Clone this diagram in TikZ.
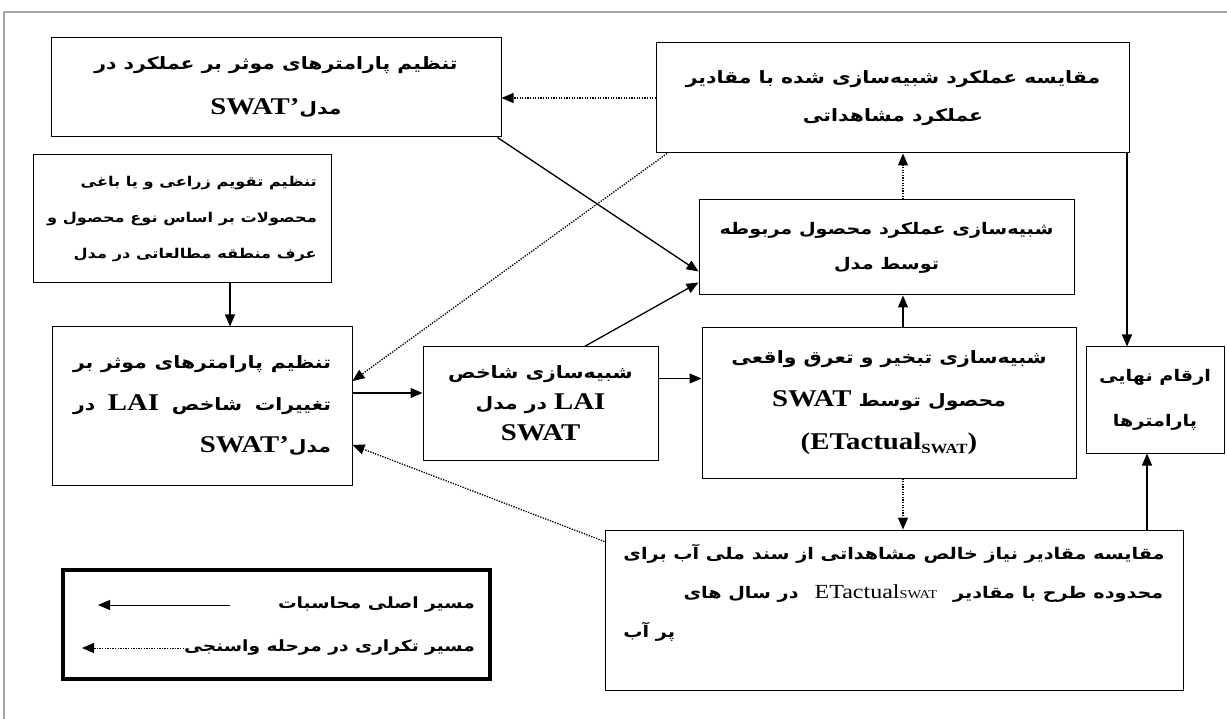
\documentclass[tikz,border=0pt]{standalone}
\usepackage{fontspec}
\usetikzlibrary{arrows.meta,calc}
\TeXXeTstate=1
\newfontfamily\fa[Script=Arabic,FakeStretch=1.2]{DejaVu Sans}
\newfontfamily\lat[FakeStretch=1.2]{Liberation Serif}
\newcommand\myrl[1]{\beginR #1\endR}
\newcommand\mylr[1]{\beginL #1\endL}
\newcommand\ff[2]{\fa\bfseries\fontsize{#1}{#2}\selectfont}
\newcommand\latb[1]{{\lat\bfseries\fontsize{24}{24}\selectfont #1}}
\begin{document}
\begin{tikzpicture}[x=1pt,y=-1pt,
  box/.style={draw, line width=1pt, inner sep=0pt, font=\ff{17}{37}},
  txt/.style={inner sep=0pt},
  mainarrow/.style={line width=1.3pt, -{Triangle[length=12pt,width=10pt]}},
  iterarrow/.style={line width=1.3pt, dash pattern=on 1.3pt off 1.3pt, -{Triangle[length=12pt,width=10pt]}},
  frame/.style={draw=gray!70, line width=1.2pt}]
\useasboundingbox (0,0) rectangle (1227,719);
\draw[frame] (4,719) -- (4,12) -- (1227,12);

\node[box, minimum width=450pt, minimum height=99pt, align=center, font=\ff{17}{45}] (b1) at (276,87.5)
  {\myrl{تنظیم پارامترهای موثر بر عملکرد در}\\\myrl{مدل\mylr{\latb{SWAT’}}}};
\node[box, minimum width=473pt, minimum height=110pt, align=center, font=\ff{17}{38}] (b2) at (893,98)
  {\myrl{مقایسه عملکرد شبیه‌سازی شده با مقادیر}\\\myrl{عملکرد مشاهداتی}};
\node[box, minimum width=298pt, minimum height=128pt, align=right, font=\ff{13.5}{36}] (b3) at (182,219)
  {\myrl{تنظیم تقویم زراعی و  یا باغی}\\\myrl{محصولات بر اساس نوع محصول و}\\\myrl{عرف منطقه مطالعاتی در مدل}};
\node[box, minimum width=375pt, minimum height=95pt, align=center, font=\ff{16}{35}] (b4) at (886.5,247.5)
  {\myrl{شبیه‌سازی عملکرد محصول مربوطه}\\\myrl{توسط مدل}};
\node[box, minimum width=300pt, minimum height=158pt, align=right, font=\ff{17}{42}] (b5) at (202,406)
  {\makebox[258pt][s]{\myrl{تنظیم پارامترهای موثر بر}}\\\makebox[258pt][s]{\myrl{تغییرات شاخص \mylr{\latb{LAI}} در}}\\\myrl{مدل\mylr{\latb{SWAT’}}}};
\node[box, minimum width=235pt, minimum height=113pt, align=center, font=\ff{17}{31}] (b6) at (540.5,403.5)
  {\myrl{شبیه‌سازی  شاخص}\\\myrl{\mylr{\latb{LAI}} در مدل}\\\latb{SWAT}};
\node[box, minimum width=374pt, minimum height=150pt, align=center, font=\ff{17}{43}] (b7) at (889,403)
  {\myrl{شبیه‌سازی تبخیر و تعرق واقعی}\\\myrl{محصول توسط \mylr{\latb{SWAT}}}\\\latb{(ETactual\raisebox{-0.35ex}{\fontsize{14}{14}\selectfont SWAT})}};
\node[box, minimum width=138pt, minimum height=106pt, align=center, font=\ff{16}{45}] (b8) at (1155,400)
  {\myrl{ارقام نهایی}\\\myrl{پارامترها}};
\node[box, minimum width=578pt, minimum height=160pt] (b9) at (894,610) {};
\node[txt, align=left, font=\ff{16}{39}] (t9) at ([yshift=17pt]b9.center)
  {\myrl{مقایسه مقادیر نیاز خالص مشاهداتی از سند ملی آب برای}\\
   \makebox[540pt][r]{\myrl{محدوده طرح با مقادیر\quad\mylr{{\lat\mdseries\fontsize{20}{20}\selectfont ETactual{\fontsize{12}{12}\selectfont SWAT}}}\quad در سال های}}\\
   \myrl{پر آب}};

% legend
\node[draw, line width=3.5pt, minimum width=427pt, minimum height=109pt] (lg) at (276.5,624.5) {};
\node[anchor=east, txt, font=\ff{15.5}{16}] (lg1) at (475,605) {\myrl{مسیر اصلی محاسبات}};
\node[anchor=east, txt, font=\ff{15.5}{16}] (lg2) at (475,648) {\myrl{مسیر تکراری در مرحله واسنجی}};
\coordinate (la1) at (230,605);
\coordinate (la2) at (98,605);
\coordinate (lb2) at (82,648);
\draw[mainarrow, line width=1pt] (la1) -- (la2);
\draw[iterarrow, line width=1pt] (lg2.west) -- (lb2);

% main path
\draw[mainarrow] ([xshift=-4pt]b1.south east) -- ([yshift=-24pt]b4.west);
\draw[mainarrow] ([xshift=48pt]b3.south) -- ([xshift=28pt]b5.north);
\coordinate (p1) at ([yshift=13pt]b5.east);
\draw[mainarrow] (p1) -- (p1 -| b6.west);
\draw[mainarrow] ([xshift=44pt]b6.north) -- ([yshift=-35pt]b4.west);
\coordinate (p2) at ([yshift=25pt]b6.east);
\draw[mainarrow] (p2) -- (p2 -| b7.west);
\coordinate (p3) at ([xshift=14pt]b7.north);
\draw[mainarrow] (p3) -- (p3 |- b4.south);
\coordinate (q1) at ([xshift=-3pt]b2.south east);
\draw[mainarrow] (q1) -- (q1 |- b8.north);
\coordinate (q2) at ([xshift=-8pt]b8.south);
\draw[mainarrow] (q2 |- b9.north) -- (q2);

% iteration path
\coordinate (p4) at (p3 |- b4.north);
\draw[iterarrow] (p4) -- (p4 |- b2.south);
\coordinate (p5) at (p3 |- b7.south);
\draw[iterarrow] (p5) -- (p5 |- b9.north);
\draw[iterarrow] (b2.west) -- (b2.west -| b1.east);
\draw[iterarrow] ([xshift=11pt]b2.south west) -- ([yshift=25pt]b5.east);
\draw[iterarrow] ([yshift=-12pt]b9.north west) -- ([yshift=-39pt]b5.east);
\end{tikzpicture}
\end{document}
